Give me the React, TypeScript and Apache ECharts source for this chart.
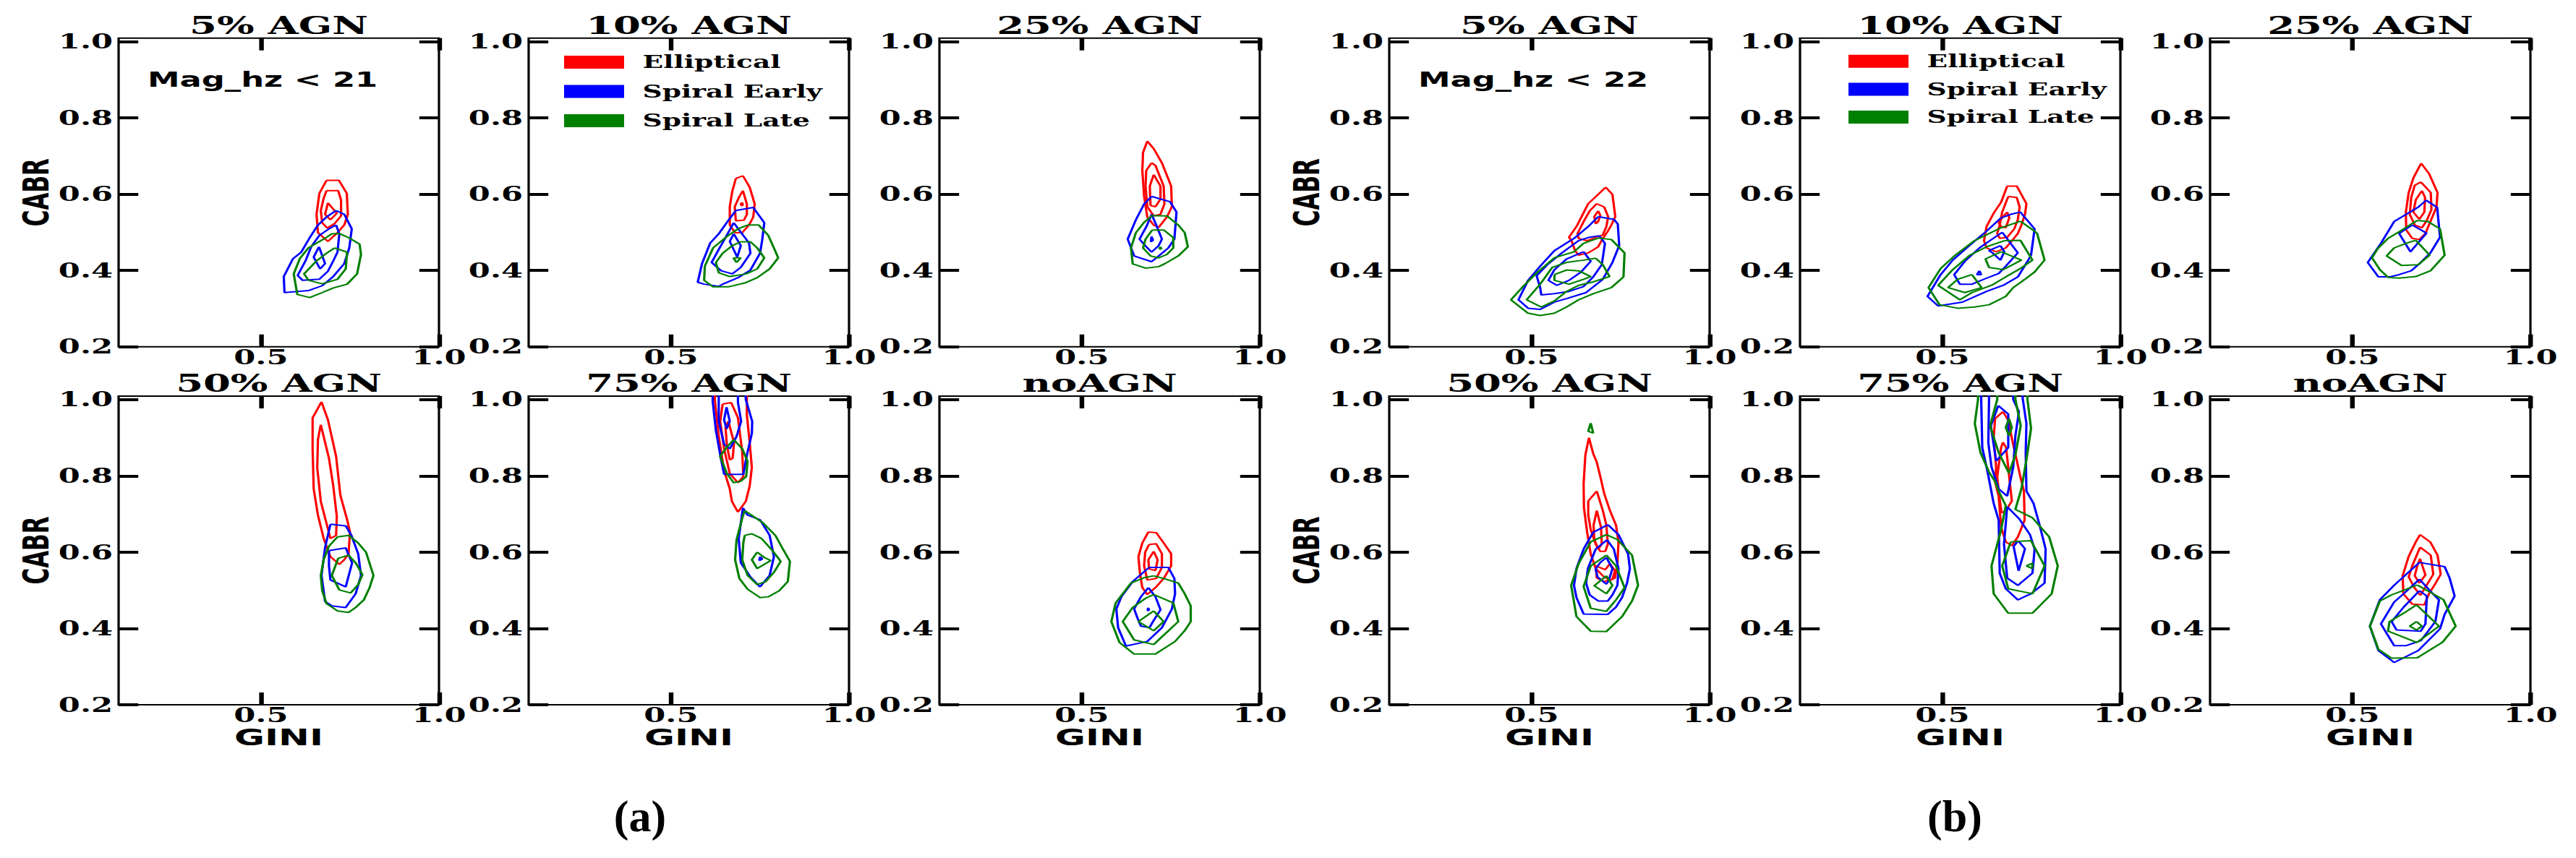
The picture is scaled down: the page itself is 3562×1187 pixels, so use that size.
import React, { useEffect, useRef } from 'react';
import * as echarts from 'echarts';

// ---------------- data ----------------
const PANEL_TITLES = ['5% AGN', '10% AGN', '25% AGN', '50% AGN', '75% AGN', 'noAGN'];
const CLASSES = ['Elliptical', 'Spiral Early', 'Spiral Late'];
const CLASS_COLORS = ['#ff0000', '#0000ff', '#008000'];
const MAG_LABELS = ['Mag_hz < 21', 'Mag_hz < 22'];
const GROUP_LABELS = ['(a)', '(b)'];
const X_TICKS = [0.5, 1.0];
const Y_TICKS = [0.2, 0.4, 0.6, 0.8, 1.0];
const X_RANGE = [0.1, 1.0];
const Y_RANGE = [0.2, 1.009];

// (a) Mag_hz < 21
const A1_ELL = [
  [[0.684,0.636],[0.719,0.636],[0.741,0.602],[0.744,0.547],[0.734,0.519],[0.715,0.499],[0.688,0.476],[0.660,0.499],[0.656,0.547],[0.664,0.602]],
  [[0.684,0.609],[0.717,0.609],[0.725,0.584],[0.725,0.543],[0.707,0.523],[0.686,0.511],[0.672,0.525],[0.668,0.557],[0.676,0.589]],
  [[0.688,0.577],[0.713,0.550],[0.695,0.533],[0.680,0.547]],
];
const A1_SPE = [
  [[0.711,0.557],[0.734,0.547],[0.755,0.509],[0.748,0.459],[0.734,0.418],[0.703,0.384],[0.672,0.360],[0.633,0.347],[0.566,0.342],[0.564,0.384],[0.590,0.431],[0.613,0.448],[0.637,0.486],[0.660,0.519],[0.684,0.540]],
  [[0.711,0.519],[0.720,0.496],[0.715,0.448],[0.703,0.425],[0.688,0.398],[0.664,0.377],[0.617,0.374],[0.603,0.387],[0.625,0.425],[0.641,0.462],[0.664,0.492],[0.691,0.509]],
  [[0.663,0.462],[0.680,0.418],[0.666,0.404],[0.648,0.435]],
];
const A1_SPL = [
  [[0.719,0.497],[0.746,0.486],[0.777,0.469],[0.781,0.442],[0.770,0.391],[0.742,0.364],[0.703,0.354],[0.672,0.342],[0.637,0.329],[0.602,0.337],[0.592,0.391],[0.609,0.431],[0.633,0.459],[0.676,0.482],[0.699,0.496]],
  [[0.707,0.459],[0.742,0.448],[0.738,0.404],[0.715,0.377],[0.672,0.365],[0.634,0.374],[0.621,0.391],[0.656,0.425],[0.684,0.445]],
];
const A2_ELL = [
  [[0.682,0.641],[0.702,0.648],[0.721,0.618],[0.735,0.574],[0.731,0.540],[0.719,0.519],[0.700,0.499],[0.680,0.499],[0.665,0.519],[0.665,0.567],[0.672,0.607]],
  [[0.692,0.594],[0.702,0.609],[0.713,0.574],[0.713,0.547],[0.705,0.532],[0.682,0.530],[0.679,0.567]],
  [[0.699,0.578],[0.702,0.573],[0.699,0.569],[0.696,0.574]],
];
const A2_SPE = [
  [[0.682,0.557],[0.731,0.565],[0.762,0.525],[0.756,0.479],[0.750,0.445],[0.723,0.401],[0.688,0.381],[0.645,0.364],[0.634,0.358],[0.593,0.364],[0.575,0.369],[0.587,0.418],[0.610,0.472],[0.634,0.496],[0.657,0.526]],
  [[0.676,0.525],[0.719,0.472],[0.723,0.445],[0.696,0.408],[0.672,0.391],[0.641,0.399],[0.614,0.421],[0.634,0.455],[0.653,0.486]],
  [[0.676,0.496],[0.696,0.465],[0.686,0.435],[0.665,0.476]],
];
const A2_SPL = [
  [[0.715,0.519],[0.746,0.519],[0.773,0.492],[0.789,0.459],[0.801,0.433],[0.777,0.404],[0.742,0.381],[0.707,0.367],[0.661,0.357],[0.618,0.357],[0.593,0.374],[0.595,0.411],[0.618,0.459],[0.657,0.489],[0.688,0.509]],
  [[0.696,0.475],[0.723,0.475],[0.742,0.459],[0.762,0.433],[0.742,0.404],[0.711,0.391],[0.665,0.384],[0.634,0.394],[0.626,0.421],[0.645,0.445],[0.672,0.465]],
  [[0.675,0.433],[0.696,0.433],[0.684,0.421]],
];
const A3_ELL = [
  [[0.684,0.739],[0.702,0.719],[0.725,0.682],[0.751,0.621],[0.753,0.567],[0.739,0.540],[0.716,0.513],[0.702,0.519],[0.684,0.540],[0.675,0.594],[0.670,0.662],[0.672,0.709]],
  [[0.696,0.682],[0.707,0.675],[0.730,0.621],[0.732,0.574],[0.721,0.547],[0.702,0.543],[0.684,0.567],[0.679,0.621],[0.681,0.662]],
  [[0.702,0.651],[0.721,0.621],[0.721,0.587],[0.707,0.567],[0.693,0.570],[0.691,0.621]],
];
const A3_SPE = [
  [[0.696,0.594],[0.748,0.580],[0.766,0.553],[0.760,0.482],[0.743,0.459],[0.716,0.438],[0.696,0.423],[0.647,0.438],[0.629,0.482],[0.652,0.533],[0.675,0.574]],
  [[0.696,0.547],[0.709,0.519],[0.725,0.482],[0.716,0.465],[0.696,0.448],[0.678,0.465],[0.662,0.482],[0.682,0.516]],
  [[0.696,0.489],[0.700,0.479],[0.694,0.475]],
];
const A3_SPL = [
  [[0.698,0.544],[0.739,0.543],[0.771,0.519],[0.789,0.499],[0.798,0.462],[0.771,0.438],[0.734,0.418],[0.716,0.410],[0.679,0.406],[0.643,0.417],[0.638,0.459],[0.652,0.499],[0.675,0.526]],
  [[0.698,0.506],[0.730,0.506],[0.757,0.486],[0.757,0.459],[0.739,0.442],[0.716,0.433],[0.693,0.438],[0.672,0.459],[0.679,0.482]],
  [[0.719,0.462],[0.724,0.458],[0.719,0.455]],
];
const A4_ELL = [
  [[0.670,0.994],[0.688,0.947],[0.711,0.851],[0.723,0.749],[0.742,0.685],[0.750,0.653],[0.746,0.596],[0.734,0.580],[0.720,0.568],[0.695,0.588],[0.676,0.636],[0.660,0.697],[0.648,0.766],[0.645,0.871],[0.645,0.952]],
  [[0.668,0.934],[0.691,0.846],[0.703,0.774],[0.713,0.693],[0.711,0.644],[0.695,0.636],[0.668,0.733],[0.658,0.822],[0.660,0.895]],
];
const A4_SPE = [
  [[0.695,0.673],[0.738,0.669],[0.754,0.644],[0.773,0.596],[0.781,0.539],[0.766,0.491],[0.738,0.455],[0.699,0.459],[0.680,0.471],[0.670,0.539],[0.680,0.612]],
  [[0.691,0.604],[0.738,0.611],[0.756,0.572],[0.738,0.509],[0.695,0.527],[0.691,0.564]],
];
const A4_SPL = [
  [[0.715,0.640],[0.746,0.644],[0.773,0.624],[0.795,0.600],[0.816,0.539],[0.805,0.507],[0.789,0.475],[0.766,0.455],[0.746,0.442],[0.715,0.446],[0.684,0.465],[0.672,0.499],[0.668,0.539],[0.676,0.580],[0.691,0.616]],
  [[0.717,0.584],[0.746,0.592],[0.766,0.572],[0.785,0.541],[0.773,0.515],[0.752,0.493],[0.720,0.501],[0.699,0.539]],
];
const A5_ELL = [
  [[0.626,1.065],[0.623,1.0],[0.634,0.903],[0.649,0.814],[0.665,0.766],[0.671,0.733],[0.688,0.705],[0.710,0.733],[0.721,0.774],[0.727,0.822],[0.721,0.887],[0.713,0.960],[0.713,1.065]],
  [[0.645,0.988],[0.669,0.992],[0.688,0.952],[0.700,0.863],[0.703,0.798],[0.688,0.782],[0.665,0.806],[0.649,0.871],[0.638,0.943]],
  [[0.661,0.943],[0.677,0.887],[0.673,0.846],[0.665,0.842],[0.657,0.879],[0.653,0.927]],
];
const A5_SPE = [
  [[0.617,1.065],[0.617,0.996],[0.626,0.919],[0.640,0.846],[0.649,0.804],[0.703,0.804],[0.713,0.854],[0.727,0.911],[0.728,0.943],[0.710,1.0],[0.707,1.065]],
  [[0.634,1.065],[0.634,0.943],[0.649,0.883],[0.665,0.871],[0.684,0.903],[0.697,0.943],[0.688,0.992],[0.688,1.065]],
  [[0.656,0.980],[0.665,0.943],[0.656,0.923],[0.649,0.947]],
  [[0.702,0.716],[0.715,0.697],[0.750,0.685],[0.777,0.644],[0.789,0.588],[0.777,0.539],[0.750,0.509],[0.723,0.535],[0.696,0.572],[0.690,0.636]],
  [[0.750,0.588],[0.756,0.582],[0.748,0.578]],
];
const A5_SPL = [
  [[0.676,0.895],[0.700,0.871],[0.715,0.838],[0.711,0.798],[0.696,0.786],[0.676,0.782],[0.657,0.806],[0.638,0.851],[0.653,0.871]],
  [[0.707,0.709],[0.758,0.677],[0.793,0.644],[0.812,0.612],[0.834,0.576],[0.828,0.523],[0.804,0.499],[0.773,0.483],[0.750,0.481],[0.715,0.503],[0.692,0.531],[0.680,0.580],[0.684,0.632],[0.700,0.689]],
  [[0.707,0.644],[0.727,0.648],[0.754,0.636],[0.785,0.604],[0.808,0.576],[0.789,0.547],[0.766,0.523],[0.742,0.515],[0.715,0.539],[0.700,0.580],[0.703,0.624]],
  [[0.742,0.600],[0.762,0.586],[0.780,0.578],[0.742,0.557],[0.727,0.580]],
];
const A6_ELL = [
  [[0.687,0.653],[0.709,0.651],[0.730,0.624],[0.751,0.596],[0.751,0.564],[0.730,0.531],[0.707,0.507],[0.684,0.489],[0.670,0.507],[0.663,0.547],[0.659,0.588],[0.670,0.624]],
  [[0.689,0.620],[0.709,0.622],[0.725,0.596],[0.725,0.560],[0.709,0.531],[0.684,0.527],[0.675,0.564],[0.678,0.600]],
  [[0.702,0.602],[0.713,0.580],[0.707,0.552],[0.689,0.556],[0.687,0.580]],
];
const A6_SPE = [
  [[0.689,0.560],[0.743,0.560],[0.760,0.531],[0.762,0.491],[0.753,0.451],[0.725,0.402],[0.684,0.366],[0.624,0.354],[0.602,0.402],[0.597,0.451],[0.611,0.483],[0.643,0.523]],
  [[0.687,0.507],[0.707,0.483],[0.721,0.449],[0.700,0.418],[0.690,0.402],[0.666,0.406],[0.657,0.426],[0.647,0.451],[0.666,0.483]],
  [[0.686,0.454],[0.689,0.449],[0.685,0.446]],
];
const A6_SPL = [
  [[0.702,0.538],[0.734,0.530],[0.771,0.519],[0.789,0.491],[0.806,0.459],[0.806,0.418],[0.789,0.394],[0.762,0.366],[0.707,0.333],[0.647,0.333],[0.606,0.363],[0.583,0.418],[0.595,0.467],[0.638,0.519],[0.675,0.533]],
  [[0.702,0.489],[0.757,0.467],[0.771,0.418],[0.734,0.386],[0.702,0.358],[0.647,0.370],[0.615,0.418],[0.643,0.455],[0.679,0.479]],
  [[0.702,0.446],[0.730,0.418],[0.702,0.394],[0.659,0.418]],
];

// (b) Mag_hz < 22
const B1_ELL = [
  [[0.708,0.618],[0.727,0.599],[0.735,0.541],[0.724,0.519],[0.714,0.503],[0.700,0.484],[0.687,0.462],[0.659,0.446],[0.632,0.440],[0.622,0.452],[0.612,0.478],[0.605,0.487],[0.626,0.515],[0.642,0.544],[0.659,0.575],[0.683,0.596]],
  [[0.683,0.575],[0.704,0.566],[0.715,0.541],[0.710,0.515],[0.700,0.493],[0.680,0.487],[0.656,0.478],[0.632,0.484],[0.629,0.497],[0.646,0.528],[0.663,0.556]],
  [[0.687,0.556],[0.693,0.544],[0.687,0.528],[0.680,0.522],[0.676,0.541]],
];
const B1_SPE = [
  [[0.687,0.541],[0.731,0.534],[0.742,0.522],[0.746,0.465],[0.727,0.421],[0.700,0.377],[0.653,0.342],[0.598,0.326],[0.564,0.317],[0.524,0.298],[0.490,0.301],[0.463,0.323],[0.490,0.374],[0.524,0.411],[0.564,0.452],[0.619,0.484],[0.659,0.515]],
  [[0.690,0.491],[0.706,0.471],[0.697,0.415],[0.673,0.383],[0.646,0.358],[0.605,0.345],[0.564,0.339],[0.527,0.336],[0.524,0.355],[0.514,0.386],[0.544,0.415],[0.585,0.446],[0.632,0.478],[0.663,0.487]],
  [[0.646,0.449],[0.666,0.424],[0.639,0.396],[0.605,0.374],[0.571,0.361],[0.547,0.374],[0.564,0.402],[0.598,0.430]],
];
const B1_SPL = [
  [[0.687,0.485],[0.724,0.481],[0.761,0.446],[0.758,0.383],[0.724,0.355],[0.673,0.339],[0.632,0.323],[0.598,0.304],[0.564,0.288],[0.524,0.282],[0.490,0.288],[0.442,0.323],[0.476,0.358],[0.517,0.396],[0.564,0.433],[0.619,0.449],[0.646,0.471]],
  [[0.680,0.432],[0.700,0.415],[0.719,0.384],[0.673,0.370],[0.632,0.361],[0.598,0.345],[0.564,0.320],[0.527,0.304],[0.486,0.323],[0.524,0.364],[0.558,0.408],[0.598,0.421],[0.646,0.427]],
  [[0.564,0.389],[0.598,0.401],[0.632,0.399],[0.666,0.384],[0.646,0.377],[0.605,0.364],[0.564,0.374]],
];
const B2_ELL = [
  [[0.682,0.621],[0.709,0.621],[0.736,0.575],[0.732,0.547],[0.722,0.519],[0.712,0.497],[0.692,0.474],[0.678,0.459],[0.651,0.449],[0.624,0.459],[0.617,0.478],[0.624,0.515],[0.644,0.550],[0.665,0.579]],
  [[0.685,0.594],[0.709,0.591],[0.717,0.566],[0.712,0.534],[0.702,0.509],[0.682,0.487],[0.661,0.484],[0.654,0.497],[0.661,0.519],[0.668,0.553]],
  [[0.682,0.553],[0.688,0.538],[0.678,0.512],[0.665,0.515],[0.658,0.525],[0.668,0.538]],
];
const B2_SPE = [
  [[0.665,0.538],[0.692,0.547],[0.719,0.553],[0.759,0.509],[0.749,0.440],[0.743,0.430],[0.712,0.383],[0.671,0.361],[0.624,0.345],[0.556,0.317],[0.488,0.307],[0.458,0.332],[0.495,0.389],[0.529,0.427],[0.583,0.471],[0.624,0.503]],
  [[0.668,0.500],[0.712,0.446],[0.678,0.411],[0.658,0.392],[0.617,0.377],[0.583,0.364],[0.549,0.364],[0.533,0.389],[0.563,0.424],[0.604,0.459],[0.638,0.481]],
  [[0.663,0.465],[0.674,0.449],[0.663,0.427],[0.641,0.446],[0.631,0.452]],
  [[0.604,0.399],[0.609,0.389],[0.597,0.389]],
];
const B2_SPL = [
  [[0.719,0.529],[0.759,0.503],[0.766,0.497],[0.787,0.427],[0.759,0.396],[0.732,0.377],[0.699,0.355],[0.678,0.332],[0.631,0.310],[0.590,0.304],[0.543,0.301],[0.492,0.310],[0.461,0.355],[0.495,0.405],[0.536,0.440],[0.590,0.478],[0.665,0.512]],
  [[0.675,0.478],[0.719,0.479],[0.753,0.427],[0.719,0.405],[0.678,0.383],[0.638,0.361],[0.583,0.342],[0.549,0.323],[0.488,0.361],[0.529,0.402],[0.577,0.440],[0.624,0.462]],
  [[0.665,0.449],[0.722,0.427],[0.671,0.402],[0.631,0.408],[0.621,0.430]],
  [[0.583,0.389],[0.610,0.355],[0.563,0.342],[0.516,0.355],[0.543,0.377]],
];
const B3_ELL = [
  [[0.693,0.681],[0.715,0.654],[0.739,0.604],[0.736,0.566],[0.719,0.528],[0.705,0.497],[0.688,0.481],[0.668,0.484],[0.651,0.506],[0.650,0.553],[0.658,0.604],[0.671,0.642]],
  [[0.692,0.632],[0.720,0.604],[0.722,0.560],[0.709,0.531],[0.695,0.512],[0.675,0.519],[0.661,0.547],[0.665,0.591],[0.675,0.623]],
  [[0.695,0.609],[0.704,0.591],[0.702,0.553],[0.688,0.534],[0.671,0.553],[0.678,0.585]],
];
const B3_SPE = [
  [[0.707,0.584],[0.738,0.565],[0.746,0.487],[0.719,0.446],[0.692,0.421],[0.665,0.399],[0.631,0.389],[0.604,0.383],[0.573,0.383],[0.543,0.421],[0.580,0.471],[0.617,0.528],[0.685,0.566]],
  [[0.668,0.519],[0.708,0.498],[0.686,0.474],[0.663,0.449],[0.631,0.497],[0.651,0.509]],
];
const B3_SPL = [
  [[0.682,0.531],[0.712,0.528],[0.746,0.509],[0.759,0.440],[0.719,0.399],[0.678,0.384],[0.631,0.380],[0.600,0.382],[0.577,0.402],[0.555,0.433],[0.570,0.456],[0.600,0.484],[0.634,0.503],[0.661,0.519]],
  [[0.678,0.479],[0.717,0.440],[0.685,0.415],[0.638,0.413],[0.596,0.438],[0.617,0.459],[0.651,0.471]],
];
const B4_ELL = [
  [[0.661,0.900],[0.673,0.858],[0.683,0.836],[0.693,0.798],[0.704,0.753],[0.720,0.709],[0.737,0.671],[0.744,0.627],[0.741,0.570],[0.734,0.532],[0.720,0.526],[0.700,0.538],[0.680,0.557],[0.666,0.595],[0.656,0.652],[0.647,0.716],[0.646,0.779],[0.651,0.855]],
  [[0.683,0.760],[0.700,0.709],[0.710,0.671],[0.714,0.621],[0.707,0.602],[0.693,0.602],[0.680,0.621],[0.666,0.659],[0.659,0.697],[0.659,0.734]],
  [[0.683,0.709],[0.695,0.665],[0.697,0.621],[0.687,0.608],[0.676,0.633],[0.674,0.671]],
  [[0.680,0.564],[0.707,0.554],[0.720,0.570],[0.734,0.551],[0.727,0.529],[0.704,0.523],[0.683,0.532]],
];
const B4_SPE = [
  [[0.714,0.672],[0.744,0.646],[0.771,0.595],[0.776,0.557],[0.768,0.519],[0.754,0.481],[0.737,0.456],[0.714,0.437],[0.646,0.438],[0.626,0.481],[0.619,0.513],[0.626,0.557],[0.646,0.608],[0.673,0.652]],
  [[0.712,0.632],[0.731,0.608],[0.744,0.557],[0.741,0.513],[0.727,0.488],[0.714,0.472],[0.687,0.472],[0.663,0.488],[0.653,0.519],[0.658,0.557],[0.680,0.608]],
  [[0.710,0.586],[0.727,0.557],[0.717,0.526],[0.710,0.516],[0.685,0.535],[0.680,0.557],[0.693,0.573]],
];
const B4_SPL = [
  [[0.666,0.938],[0.673,0.912],[0.659,0.917]],
  [[0.710,0.646],[0.741,0.633],[0.782,0.592],[0.799,0.513],[0.782,0.472],[0.754,0.431],[0.710,0.392],[0.666,0.393],[0.626,0.431],[0.611,0.513],[0.632,0.570],[0.666,0.627]],
  [[0.710,0.592],[0.737,0.564],[0.761,0.507],[0.737,0.475],[0.710,0.445],[0.666,0.453],[0.646,0.510],[0.666,0.564]],
  [[0.710,0.538],[0.727,0.513],[0.710,0.491],[0.676,0.512]],
];
const B5_ELL = [
  [[0.670,0.968],[0.685,0.946],[0.695,0.899],[0.719,0.798],[0.729,0.760],[0.731,0.684],[0.712,0.640],[0.695,0.617],[0.678,0.627],[0.665,0.665],[0.658,0.747],[0.648,0.785],[0.651,0.823],[0.644,0.899],[0.648,0.950]],
  [[0.670,0.888],[0.679,0.874],[0.695,0.734],[0.678,0.709],[0.666,0.703],[0.658,0.760],[0.654,0.798],[0.665,0.874]],
];
const B5_SPE = [
  [[0.609,1.063],[0.609,1.0],[0.612,0.874],[0.627,0.810],[0.644,0.728],[0.658,0.684],[0.661,0.545],[0.678,0.504],[0.712,0.475],[0.749,0.491],[0.787,0.519],[0.790,0.608],[0.773,0.671],[0.756,0.728],[0.736,0.760],[0.734,0.861],[0.736,0.937],[0.726,1.0],[0.719,1.063]],
  [[0.631,1.063],[0.631,1.0],[0.629,0.886],[0.638,0.823],[0.658,0.766],[0.682,0.747],[0.699,0.823],[0.705,0.905],[0.715,0.968],[0.699,1.0],[0.699,1.063]],
  [[0.657,0.984],[0.685,0.962],[0.685,0.874],[0.651,0.839],[0.636,0.931]],
  [[0.682,0.719],[0.716,0.687],[0.746,0.646],[0.759,0.608],[0.753,0.545],[0.712,0.513],[0.682,0.532],[0.673,0.621]],
  [[0.713,0.630],[0.732,0.609],[0.714,0.551],[0.700,0.615]],
];
const B5_SPL = [
  [[0.600,1.063],[0.600,1.0],[0.591,0.937],[0.607,0.861],[0.631,0.810],[0.648,0.785],[0.658,0.760],[0.678,0.722],[0.665,0.659],[0.638,0.564],[0.644,0.491],[0.685,0.440],[0.753,0.440],[0.807,0.491],[0.824,0.564],[0.800,0.640],[0.753,0.690],[0.705,0.712],[0.722,0.766],[0.736,0.842],[0.749,0.924],[0.739,1.0],[0.736,1.063]],
  [[0.654,1.063],[0.654,1.0],[0.634,0.931],[0.658,0.861],[0.687,0.807],[0.705,0.855],[0.720,0.931],[0.705,1.0],[0.705,1.063]],
  [[0.687,0.950],[0.695,0.927],[0.687,0.905],[0.678,0.927]],
  [[0.692,0.627],[0.749,0.630],[0.787,0.564],[0.753,0.491],[0.685,0.504],[0.668,0.564]],
  [[0.736,0.564],[0.753,0.571],[0.752,0.557]],
];
const B6_ELL = [
  [[0.690,0.646],[0.719,0.626],[0.739,0.592],[0.748,0.542],[0.732,0.516],[0.715,0.491],[0.702,0.462],[0.668,0.464],[0.643,0.491],[0.641,0.538],[0.658,0.589],[0.678,0.627]],
  [[0.690,0.613],[0.720,0.592],[0.727,0.542],[0.708,0.513],[0.691,0.487],[0.674,0.507],[0.658,0.535],[0.668,0.564]],
  [[0.690,0.583],[0.705,0.540],[0.688,0.519],[0.675,0.538],[0.682,0.564]],
];
const B6_SPE = [
  [[0.688,0.573],[0.759,0.562],[0.773,0.532],[0.787,0.485],[0.759,0.437],[0.746,0.399],[0.719,0.374],[0.685,0.342],[0.617,0.311],[0.573,0.342],[0.549,0.406],[0.577,0.475],[0.617,0.513]],
  [[0.688,0.529],[0.726,0.491],[0.743,0.475],[0.733,0.418],[0.692,0.368],[0.651,0.355],[0.617,0.355],[0.580,0.412],[0.617,0.469],[0.651,0.497]],
  [[0.688,0.499],[0.709,0.485],[0.705,0.412],[0.692,0.393],[0.624,0.396],[0.610,0.418],[0.644,0.456]],
];
const B6_SPL = [
  [[0.682,0.514],[0.756,0.475],[0.790,0.406],[0.753,0.364],[0.682,0.323],[0.610,0.322],[0.573,0.345],[0.549,0.406],[0.577,0.472],[0.610,0.488],[0.644,0.500]],
  [[0.680,0.462],[0.743,0.406],[0.681,0.363],[0.600,0.393],[0.604,0.418],[0.644,0.440]],
  [[0.680,0.418],[0.695,0.406],[0.680,0.396],[0.661,0.406]],
];

const PANELS = [
  [A1_ELL, A1_SPE, A1_SPL], [A2_ELL, A2_SPE, A2_SPL], [A3_ELL, A3_SPE, A3_SPL],
  [A4_ELL, A4_SPE, A4_SPL], [A5_ELL, A5_SPE, A5_SPL], [A6_ELL, A6_SPE, A6_SPL],
  [B1_ELL, B1_SPE, B1_SPL], [B2_ELL, B2_SPE, B2_SPL], [B3_ELL, B3_SPE, B3_SPL],
  [B4_ELL, B4_SPE, B4_SPL], [B5_ELL, B5_SPE, B5_SPL], [B6_ELL, B6_SPE, B6_SPL],
];

// ---------------- layout (real page pixels) ----------------
const PAGE_W = 3562;
const PAGE_H = 1187;
const S = 1.6; // the figure is stretched horizontally
const CW = PAGE_W / S;
const COL_LEFT = [164, 731, 1299, 1921, 2489, 3056];
const PANEL_W = 443;
const ROW_TOP = [52.7, 548];
const PANEL_H = 427;
const LEGEND_POS = [[780, 74, 16.5], [2556, 72.7, 14.7]];
const GROUP_LABEL_X = [885, 2703];

const SERIF = 'DejaVu Serif';
const SANS = 'DejaVu Sans';

function buildOption() {
  const grid: any[] = [];
  const xAxis: any[] = [];
  const yAxis: any[] = [];
  const series: any[] = [];
  const graphic: any[] = [];
  const labelFont = { fontFamily: SERIF, fontWeight: 'bold', fontSize: 27, color: '#000' };
  const tick = { show: true, inside: true, length: 17, lineStyle: { color: '#000', width: 4 } };

  PANELS.forEach((panel, k) => {
    const g = Math.floor(k / 6);
    const r = Math.floor((k % 6) / 3);
    const c = k % 3;
    const leftReal = COL_LEFT[g * 3 + c];
    grid.push({
      left: leftReal / S, top: ROW_TOP[r], width: PANEL_W / S, height: PANEL_H,
      show: true, borderColor: '#000', borderWidth: 2, backgroundColor: 'transparent',
    });
    xAxis.push({
      gridIndex: k, type: 'value', position: 'bottom', min: X_RANGE[0], max: X_RANGE[1],
      axisLine: { show: false }, splitLine: { show: false },
      axisTick: { ...tick, customValues: X_TICKS },
      axisLabel: { ...labelFont, customValues: X_TICKS, margin: 1, formatter: (v: number) => v.toFixed(1) },
      name: r === 1 ? 'GINI' : '', nameLocation: 'middle', nameGap: 28,
      nameTextStyle: { fontFamily: SANS, fontWeight: 'bold', fontSize: 32, color: '#000' },
    });
    xAxis.push({
      gridIndex: k, type: 'value', position: 'top', min: X_RANGE[0], max: X_RANGE[1],
      axisLine: { show: false }, splitLine: { show: false },
      axisTick: { ...tick, customValues: X_TICKS }, axisLabel: { show: false },
    });
    yAxis.push({
      gridIndex: k, type: 'value', position: 'left', min: Y_RANGE[0], max: Y_RANGE[1],
      axisLine: { show: false }, splitLine: { show: false },
      axisTick: { ...tick, customValues: Y_TICKS },
      axisLabel: { ...labelFont, customValues: Y_TICKS, margin: 5, formatter: (v: number) => v.toFixed(1) },
      name: c === 0 ? 'CABR' : '', nameLocation: 'middle', nameGap: 54, nameRotate: 90,
      nameTextStyle: { fontFamily: SANS, fontWeight: 'bold', fontSize: 31, color: '#000' },
    });
    yAxis.push({
      gridIndex: k, type: 'value', position: 'right', min: Y_RANGE[0], max: Y_RANGE[1],
      axisLine: { show: false }, splitLine: { show: false },
      axisTick: { ...tick, customValues: Y_TICKS }, axisLabel: { show: false },
    });

    panel.forEach((contours: number[][][], j: number) => {
      contours.forEach((pts) => {
        series.push({
          type: 'line', name: CLASSES[j], xAxisIndex: 2 * k, yAxisIndex: 2 * k,
          data: [...pts, pts[0]], showSymbol: false, symbol: 'none', clip: true, silent: true,
          color: CLASS_COLORS[j], itemStyle: { color: CLASS_COLORS[j] },
          lineStyle: { color: CLASS_COLORS[j], width: 2 }, z: 2 + j,
        });
      });
    });

    graphic.push({
      type: 'text', x: (leftReal + PANEL_W / 2) / S, y: ROW_TOP[r] - 18, silent: true,
      style: {
        text: PANEL_TITLES[k % 6], fontFamily: SERIF, fontWeight: 'bold', fontSize: 34,
        fill: '#000', align: 'center', verticalAlign: 'middle',
      },
    });
  });

  [0, 1].forEach((g) => {
    graphic.push({
      type: 'text', x: (COL_LEFT[g * 3] + 40) / S, y: 110, silent: true,
      style: {
        text: MAG_LABELS[g], fontFamily: SANS, fontWeight: 'bold', fontSize: 28,
        fill: '#000', align: 'left', verticalAlign: 'middle',
      },
    });
    graphic.push({
      type: 'text', x: GROUP_LABEL_X[g] / S, y: 1129, scaleX: 1 / S, silent: true,
      style: {
        text: GROUP_LABELS[g], fontFamily: 'Liberation Serif', fontWeight: 'bold', fontSize: 62,
        fill: '#000', align: 'center', verticalAlign: 'middle',
      },
    });
  });

  const legend = LEGEND_POS.map(([lx, ly, gap]) => ({
    data: CLASSES, orient: 'vertical', left: lx / S, top: ly, padding: 0,
    itemWidth: 83 / S, itemHeight: 18, itemGap: gap, icon: 'rect', selectedMode: false,
    textStyle: { fontFamily: SERIF, fontWeight: 'bold', fontSize: 23.5, color: '#000', lineHeight: 18, padding: [0, 0, 0, 11] },
  }));

  return {
    animation: false,
    backgroundColor: '#ffffff',
    grid, xAxis, yAxis, series, legend, graphic,
  };
}

export default function App() {
  const ref = useRef<HTMLDivElement>(null);
  useEffect(() => {
    if (!ref.current) return;
    const chart = echarts.init(ref.current, undefined, { renderer: 'svg' });
    chart.setOption(buildOption() as any);
    return () => chart.dispose();
  }, []);
  return (
    <div style={{ position: 'absolute', left: 0, top: 0, width: PAGE_W, height: PAGE_H, overflow: 'hidden', background: '#fff' }}>
      <div
        ref={ref}
        style={{ width: CW, height: PAGE_H, transform: `scaleX(${S})`, transformOrigin: '0 0' }}
      />
    </div>
  );
}
